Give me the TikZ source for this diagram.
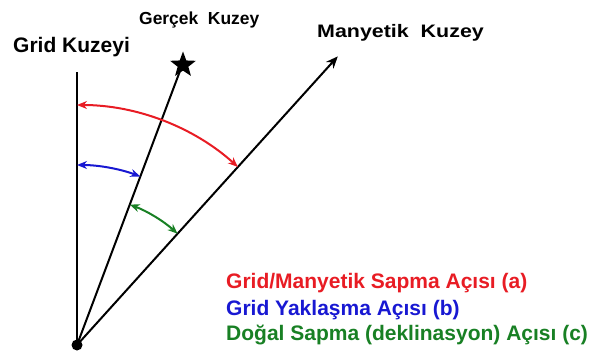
\documentclass[tikz,border=0pt]{standalone}
\usepackage{fontspec}
\usepackage{graphicx}
\setmainfont{Liberation Sans}
\usetikzlibrary{arrows.meta,shapes.geometric,calc}
\definecolor{cred}{RGB}{232,28,36}
\definecolor{cblue}{RGB}{24,24,210}
\definecolor{cgreen}{RGB}{24,128,36}
\tikzset{
  axisline/.style={line width=2pt,black},
  anglearc/.style={line width=2pt,{Stealth[length=10pt,width=8pt]}-{Stealth[length=10pt,width=8pt]}},
  title/.style={font=\bfseries\fontsize{21}{24}\selectfont,inner sep=0pt,anchor=base west},
  legend/.style={font=\bfseries\fontsize{21}{24}\selectfont,inner sep=0pt,anchor=base west}
}
\begin{document}
\begin{tikzpicture}[x=1pt,y=1pt]
\useasboundingbox (0,0) rectangle (600,362);
\coordinate (O) at (77,17);
\coordinate (G) at (77,290);
\coordinate (T) at ($(O)+(69.4:292)$);
\coordinate (M) at ($(O)+(47.9:389)$);
\node[star,star points=5,star point ratio=2.4,fill=black,minimum size=27pt,inner sep=0pt] (S) at (183,297) {};
% lines
\draw[axisline] (O) -- (G);
\draw[axisline] (O) -- (T);
\draw[axisline,-{Stealth[length=12pt,width=10pt]}] (O) -- (M);
\fill (O) circle (5.5);
% arcs
\draw[anglearc,cred] ($(O)+(90:240)$) arc[start angle=90,end angle=47.9,radius=240];
\draw[anglearc,cblue] ($(O)+(90:180)$) arc[start angle=90,end angle=69.4,radius=180];
\draw[anglearc,cgreen] ($(O)+(69.4:150)$) arc[start angle=69.4,end angle=47.9,radius=150];
% titles
\node[title] (tg) at (13,309) {Grid Kuzeyi};
\node[title] (tt) at (139,337) {\scalebox{0.83}{Gerçek\ \ Kuzey}};
\node[title] (tm) at (317,324) {\scalebox{1.02}[0.86]{Manyetik\ \ Kuzey}};
% legend
\node[legend,text=cred] (la) at (226,74) {Grid/Manyetik Sapma Açısı (a)};
\node[legend,text=cblue] (lb) at (226,47) {Grid Yaklaşma Açısı (b)};
\node[legend,text=cgreen] (lc) at (226,22) {Doğal Sapma (deklinasyon) Açısı (c)};
\end{tikzpicture}
\end{document}
